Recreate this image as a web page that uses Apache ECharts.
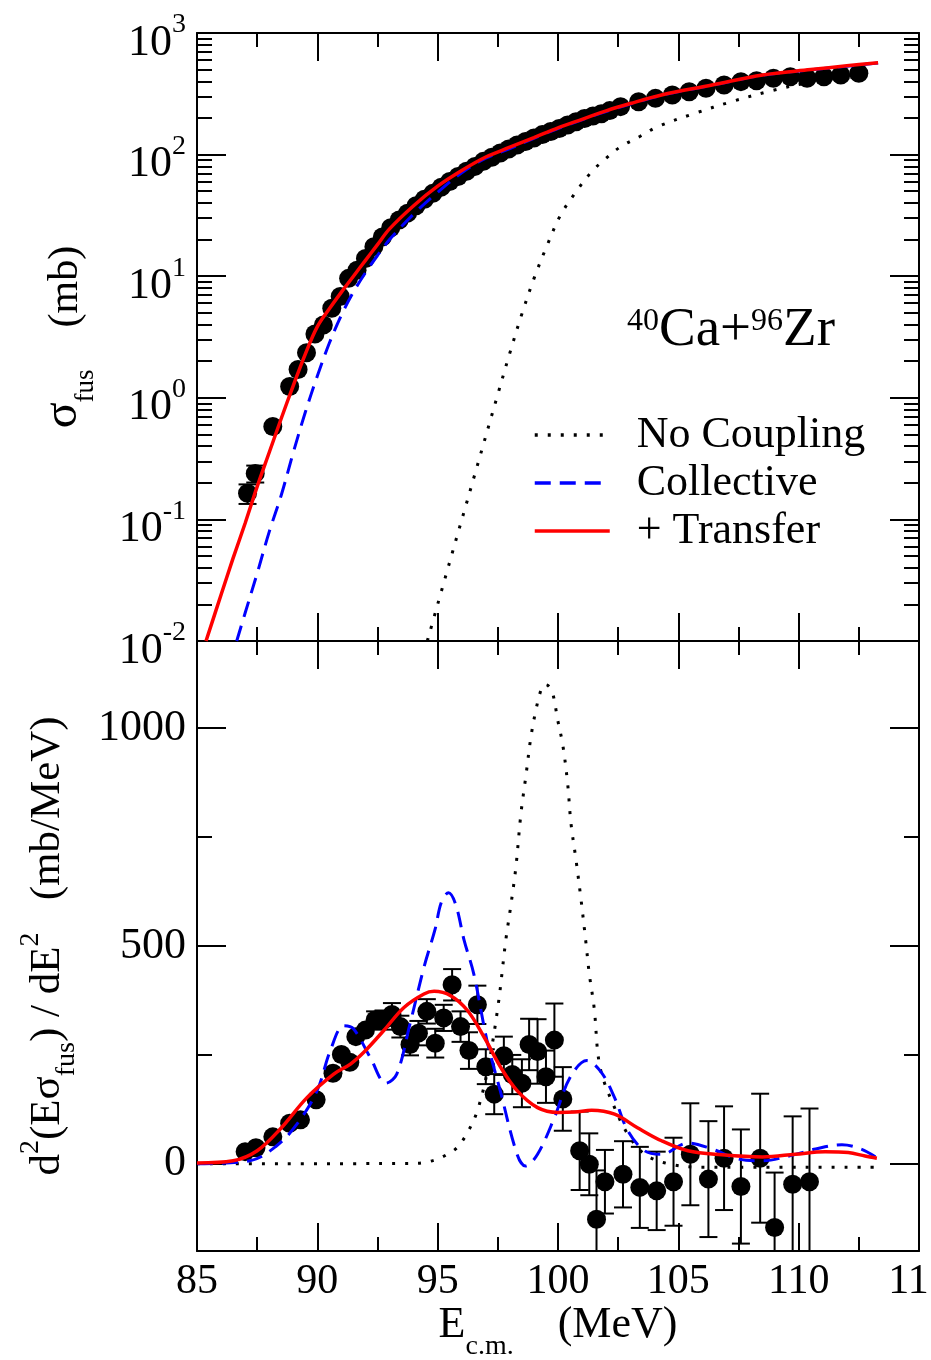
<!DOCTYPE html>
<html><head><meta charset="utf-8">
<script src="https://cdn.jsdelivr.net/npm/echarts@6/dist/echarts.min.js"></script>
<style>html,body{margin:0;padding:0;background:#fff}#c{width:931px;height:1360px}</style>
</head><body><div id="c"></div>
<script>
// ---------- DATA ----------
// Top panel: experimental fusion cross section (mb)
const topE   = [87.1, 87.42, 88.15, 88.85, 89.2, 89.55, 89.9, 90.25, 90.6, 90.95, 91.3, 91.65, 92.0, 92.35, 92.7, 93.05, 93.4, 93.75, 94.1, 94.45, 94.8, 95.15, 95.5, 95.85, 96.2, 96.55, 96.9, 97.25, 97.6, 97.95, 98.3, 98.65, 99.0, 99.35, 99.7, 100.05, 100.4, 100.75, 101.1, 101.45, 101.8, 102.15, 102.6, 103.35, 104.05, 104.75, 105.45, 106.15, 106.9, 107.6, 108.25, 108.95, 109.65, 110.35, 111.05, 111.75, 112.5];
const topSig = [0.164, 0.239, 0.58, 1.24, 1.71, 2.35, 3.35, 3.97, 5.45, 6.8, 9.6, 11.2, 14, 17.5, 21, 25, 29, 33, 38, 43, 48, 54, 60, 66, 73, 80, 88, 95, 103, 111, 120, 128, 137, 146, 155, 164, 175, 186, 198, 208, 217, 230, 248, 272, 290, 309, 329, 351, 373, 398, 405, 424, 437, 424, 437, 452, 467];
const topErr = [0.03, 0.038];   // visible error bars (first points only)

// Top panel theory curves
const ncTopE  = [94.57, 95.5, 96.5, 97.5, 98.0, 98.5, 99.0, 99.5, 100.1, 100.75, 101.4, 102.0, 102.6, 103.4, 104.15, 105.7, 107.2, 108.9, 110.7, 113.2];
const ncTopS  = [0.01, 0.0447, 0.219, 1.07, 2.34, 4.9, 9.55, 17, 31.6, 49.5, 72.4, 93.3, 116, 141, 170, 219, 272, 336, 398, 452];
const colTopE = [86.65, 87.0, 87.5, 88.0, 88.5, 89.0, 89.5, 90.0, 90.5, 91.0, 91.5, 92.0, 92.5, 93.0, 94.0, 95.0, 96.0, 97.0, 98.0, 99.0, 100.0, 101.0, 102.0, 104.3, 106.4, 108.5, 110.5, 112.0, 113.3];
const colTopS = [0.01, 0.017, 0.036, 0.079, 0.158, 0.355, 0.76, 1.51, 2.82, 4.79, 7.41, 10.7, 14.8, 20, 32.4, 49, 70.8, 93.3, 112, 136, 164, 193, 226, 307, 371, 449, 498, 533, 566];
const trTopE  = [85.375, 86.0, 86.5, 87.0, 87.5, 88.0, 88.5, 89.0, 89.5, 90.0, 90.5, 91.0, 91.5, 92.0, 92.5, 93.0, 94.0, 95.0, 96.0, 97.0, 98.0, 99.0, 100.0, 101.0, 102.0, 103.0, 104.3, 106.4, 108.5, 110.5, 112.0, 113.3];
const trTopS  = [0.01, 0.024, 0.048, 0.093, 0.186, 0.355, 0.676, 1.26, 2.29, 3.85, 5.4, 7.4, 10.0, 13.5, 18.2, 24.5, 38, 55, 74, 95.5, 115, 138, 166, 195, 229, 263, 309, 373, 452, 500, 537, 570];

// Bottom panel: barrier distribution d2(E sigma)/dE2 (mb/MeV)
const botE   = [87.0, 87.45, 88.15, 88.85, 89.3, 89.95, 90.65, 91.0, 91.35, 91.6, 92.0, 92.4, 92.75, 93.1, 93.45, 93.85, 94.2, 94.55, 94.9, 95.25, 95.6, 95.95, 96.3, 96.65, 97.0, 97.35, 97.75, 98.1, 98.5, 98.8, 99.15, 99.5, 99.85, 100.2, 100.9, 101.3, 101.6, 101.95, 102.7, 103.4, 104.1, 104.8, 105.5, 106.25, 106.9, 107.6, 108.4, 109.0, 109.75, 110.45];
const botV   = [28, 37, 62, 93, 101, 147, 208, 251, 233, 292, 307, 330, 330, 343, 315, 274, 300, 350, 277, 335, 411, 315, 260, 365, 223, 160, 248, 205, 185, 274, 258, 200, 284, 149, 30, -1, -127, -41, -24, -54, -62, -41, 22, -35, 13, -52, 13, -146, -47, -41];
const botErr = [0, 0, 0, 0, 0, 0, 0, 0, 0, 0, 0, 20, 22, 26, 25, 25, 28, 28, 33, 30, 36, 35, 42, 44, 40, 46, 44, 45, 55, 59, 74, 60, 84, 73, 90, 71, 112, 73, 76, 93, 90, 101, 117, 133, 119, 131, 148, 126, 156, 168];

const ncBotE  = [85.0, 94.0, 94.43, 95.0, 95.4, 95.8, 96.24, 96.65, 97.07, 97.5, 97.83, 98.04, 98.25, 98.46, 98.67, 98.875, 99.08, 99.29, 99.43, 99.6, 99.78, 99.99, 100.2, 100.4, 100.54, 100.75, 100.96, 101.15, 101.3, 101.5, 101.75, 102.35, 102.9, 103.6, 104.6, 106.0, 113.2];
const ncBotV  = [0, 1, 3, 11, 22, 37, 72, 122, 214, 359, 513, 593, 681, 804, 892, 980, 1041, 1087, 1100, 1097, 1080, 1018, 961, 873, 781, 697, 605, 513, 436, 359, 221, 129, 68, 22, 0, -8, -8];
const colBotE = [85.0, 87.2, 88.3, 89.15, 89.99, 90.54, 91.1, 91.5, 92.2, 92.85, 93.3, 93.85, 94.43, 94.9, 95.15, 95.45, 95.75, 96.1, 96.5, 97.05, 97.6, 98.3, 98.65, 99.15, 99.85, 100.5, 101.2, 101.8, 102.35, 102.9, 103.6, 104.3, 105.4, 106.4, 107.5, 108.5, 109.6, 110.7, 111.8, 112.6, 113.25];
const colBotV = [0, 7, 41, 91, 168, 260, 317, 310, 244, 185, 206, 321, 451, 540, 600, 622, 595, 513, 436, 283, 168, 22, -5, 22, 106, 198, 237, 210, 152, 76, 30, 22, 48, 34, 11, 7, 18, 34, 44, 34, 14];
const trBotE  = [85.0, 86.5, 87.5, 88.46, 89.57, 90.68, 91.375, 91.93, 92.76, 93.6, 94.43, 94.85, 95.54, 96.24, 96.94, 97.625, 98.3, 99.15, 100.0, 100.7, 101.4, 102.35, 103.3, 104.3, 105.4, 106.8, 108.5, 109.85, 111.1, 112.06, 112.76, 113.25];
const trBotV  = [2, 7, 30, 80, 152, 206, 229, 256, 306, 359, 390, 396, 386, 352, 290, 221, 168, 129, 118, 119, 123, 114, 83, 53, 30, 21, 16, 22, 28, 26, 18, 13];

// Tick values
const botYLabels = [0, 500, 1000];
const botYMinor  = [250, 750];
const topDecadeExp = [-2, -1, 0, 1, 2, 3];

// ---------- CHART ----------
const FONT = '"Liberation Serif", "Times New Roman", serif';
const BLACK = '#000';
const zip = (a, b) => a.map((v, i) => [v, b[i]]);
const logMinor = [];
topDecadeExp.slice(0, -1).forEach(e => { for (let k = 2; k <= 9; k++) logMinor.push(e + Math.log10(k)); });

const chart = echarts.init(document.getElementById('c'), null, {renderer: 'canvas', width: 931, height: 1360});

const lineCommon = {color: BLACK, width: 2};
function xAx(grid, pos, labels, name) {
  const a = {
    type: 'value', gridIndex: grid, position: pos, min: 85, max: 115, interval: 5,
    axisLine: {show: true, onZero: false, lineStyle: lineCommon},
    axisTick: {show: true, inside: true, length: 28, lineStyle: lineCommon},
    minorTick: {show: true, splitNumber: 2, length: 14, lineStyle: lineCommon},
    splitLine: {show: false}, minorSplitLine: {show: false},
    axisLabel: {show: labels, margin: 10, color: BLACK, fontFamily: FONT, fontSize: 42, hideOverlap: false,
      formatter: v => String(v)}
  };
  if (name) {
    a.name = '{b|E}{sub|c.m.}{b|    (MeV)}';
    a.nameLocation = 'middle';
    a.nameGap = 52;
    a.nameMoveOverlap = false;
    a.nameTextStyle = {color: BLACK, fontFamily: FONT, fontSize: 44,
      rich: {b: {fontFamily: FONT, fontSize: 44, color: BLACK, verticalAlign: 'bottom', padding: [0, 0, 14, 0]},
             sub: {fontFamily: FONT, fontSize: 28, color: BLACK, verticalAlign: 'bottom', padding: [0, 0, 0, 0]}}};
  }
  return a;
}
function helperY(grid, pos, min, max, vals, len) {
  return {type: 'value', gridIndex: grid, position: pos, min: min, max: max,
    axisLine: {show: false, onZero: false},
    axisTick: {show: true, inside: true, length: len, customValues: vals, lineStyle: lineCommon},
    axisLabel: {show: false}, splitLine: {show: false}};
}
function logY(pos, labels) {
  const a = {type: 'log', logBase: 10, gridIndex: 0, position: pos, min: 0.01, max: 1000, splitNumber: 5,
    axisLine: {show: true, onZero: false, lineStyle: lineCommon},
    axisTick: {show: true, inside: true, length: 29, lineStyle: lineCommon},
    minorTick: {show: false}, splitLine: {show: false},
    axisLabel: {show: labels, margin: 11, color: BLACK, fontFamily: FONT, fontSize: 44, padding: [10, 0, 0, 0],
      formatter: v => '{b|10}{s|' + Math.round(Math.log10(v)) + '}',
      rich: {b: {fontFamily: FONT, fontSize: 44, color: BLACK, verticalAlign: 'bottom'},
             s: {fontFamily: FONT, fontSize: 28, color: BLACK, verticalAlign: 'bottom', padding: [0, 0, 26, 0]}}}
  };
  if (labels) {
    a.name = '{g|σ}{sub|fus}{b|    (mb)}';
    a.nameLocation = 'middle'; a.nameRotate = 90; a.nameGap = 98; a.nameMoveOverlap = false;
    a.nameTextStyle = {color: BLACK, fontFamily: FONT, fontSize: 42,
      rich: {g: {fontFamily: FONT, fontSize: 48, color: BLACK, verticalAlign: 'bottom', padding: [0, 0, 12, 0]},
             b: {fontFamily: FONT, fontSize: 42, color: BLACK, verticalAlign: 'bottom', padding: [0, 0, 12, 0]},
             sub: {fontFamily: FONT, fontSize: 27, color: BLACK, verticalAlign: 'bottom'}}};
  }
  return a;
}
function linY(pos, labels) {
  const a = {type: 'value', gridIndex: 1, position: pos, min: -200, max: 1200,
    axisLine: {show: true, onZero: false, lineStyle: lineCommon},
    axisTick: {show: true, inside: true, length: 29, customValues: botYLabels, lineStyle: lineCommon},
    splitLine: {show: false},
    axisLabel: {show: labels, customValues: botYLabels, margin: 11, color: BLACK, fontFamily: FONT, fontSize: 44,
      formatter: v => String(v)}
  };
  if (labels) {
    a.name = '{b|d}{sup|2}{b|(Eσ}{sub|fus}{b|) / dE}{sup|2}{b|   (mb/MeV)}';
    a.nameLocation = 'middle'; a.nameRotate = 90; a.nameGap = 116; a.nameMoveOverlap = false;
    a.nameTextStyle = {color: BLACK, fontFamily: FONT, fontSize: 43,
      rich: {b: {fontFamily: FONT, fontSize: 43, color: BLACK, verticalAlign: 'bottom', padding: [0, 0, 12, 0]},
             sup: {fontFamily: FONT, fontSize: 28, color: BLACK, verticalAlign: 'bottom', padding: [0, 0, 36, 0]},
             sub: {fontFamily: FONT, fontSize: 28, color: BLACK, verticalAlign: 'bottom'}}};
  }
  return a;
}

function errSeries(xi, yi, data) {
  return {
    type: 'custom', xAxisIndex: xi, yAxisIndex: yi, clip: true, silent: true, z: 2,
    renderItem: (params, api) => {
      const x = api.value(0), lo = api.value(1), hi = api.value(2);
      const p1 = api.coord([x, lo]), p2 = api.coord([x, hi]);
      const w = 9, st = {stroke: BLACK, lineWidth: 2};
      return {type: 'group', children: [
        {type: 'line', shape: {x1: p1[0], y1: p1[1], x2: p2[0], y2: p2[1]}, style: st},
        {type: 'line', shape: {x1: p1[0] - w, y1: p1[1], x2: p1[0] + w, y2: p1[1]}, style: st},
        {type: 'line', shape: {x1: p2[0] - w, y1: p2[1], x2: p2[0] + w, y2: p2[1]}, style: st}
      ]};
    },
    encode: {x: 0, y: [1, 2]},
    data: data
  };
}
function lineSeries(name, xi, yi, data, style) {
  return {type: 'line', name: name, xAxisIndex: xi, yAxisIndex: yi, data: data, smooth: 0.35,
    symbol: 'none', showSymbol: false, clip: true, z: 3, lineStyle: style, itemStyle: {color: style.color},
    emphasis: {disabled: true}};
}
const dotStyle = {color: '#000', width: 3, type: [3, 10], cap: 'butt'};
const dashStyle = {color: '#0000ff', width: 3, type: [16, 9]};
const redStyle = {color: '#ff0000', width: 3.5, type: 'solid'};

const topErrData = topErr.map((e, i) => [topE[i], topSig[i] - e, topSig[i] + e]);
const botErrData = [];
botErr.forEach((e, i) => { if (e > 0) botErrData.push([botE[i], botV[i] - e, botV[i] + e]); });
const dotItem = {color: BLACK, opacity: 1};

const option = {
  backgroundColor: '#fff',
  animation: false,
  grid: [
    {left: 197, top: 33, width: 722, height: 608, outerBoundsMode: 'none', containLabel: false},
    {left: 197, top: 641, width: 722, height: 610, outerBoundsMode: 'none', containLabel: false}
  ],
  xAxis: [xAx(0, 'bottom', false), xAx(0, 'top', false), xAx(1, 'bottom', true, true), xAx(1, 'top', false)],
  yAxis: [
    logY('left', true), logY('right', false),
    helperY(0, 'left', -2, 3, logMinor, 15), helperY(0, 'right', -2, 3, logMinor, 15),
    linY('left', true), linY('right', false),
    helperY(1, 'left', -200, 1200, botYMinor, 15), helperY(1, 'right', -200, 1200, botYMinor, 15)
  ],
  legend: {
    orient: 'vertical', left: 528, top: 408, itemWidth: 75, itemHeight: 20, itemGap: 4,
    selectedMode: false, data: ['No Coupling', 'Collective', '+ Transfer'],
    itemStyle: {opacity: 0, borderWidth: 0},
    lineStyle: {width: 3.5},
    textStyle: {fontFamily: FONT, fontSize: 44, color: BLACK, padding: [0, 0, 0, 22]}
  },
  graphic: [{
    type: 'text', left: 627, top: 303, silent: true,
    style: {
      text: '{s|40}{m|Ca+}{s|96}{m|Zr}',
      rich: {m: {fontFamily: FONT, fontSize: 55, fill: BLACK, verticalAlign: 'bottom'},
             s: {fontFamily: FONT, fontSize: 32, fill: BLACK, verticalAlign: 'bottom', padding: [0, 0, 20, 0]}}
    }
  }],
  series: [
    errSeries(0, 0, topErrData),
    {type: 'scatter', xAxisIndex: 0, yAxisIndex: 0, data: zip(topE, topSig), symbol: 'circle', symbolSize: 19,
     itemStyle: dotItem, z: 2, clip: true, emphasis: {disabled: true}},
    lineSeries('No Coupling', 0, 0, zip(ncTopE, ncTopS), dotStyle),
    lineSeries('Collective', 0, 0, zip(colTopE, colTopS), dashStyle),
    lineSeries('+ Transfer', 0, 0, zip(trTopE, trTopS), redStyle),
    errSeries(2, 4, botErrData),
    {type: 'scatter', xAxisIndex: 2, yAxisIndex: 4, data: zip(botE, botV), symbol: 'circle', symbolSize: 19,
     itemStyle: dotItem, z: 2, clip: true, emphasis: {disabled: true}},
    lineSeries('No Coupling', 2, 4, zip(ncBotE, ncBotV), dotStyle),
    lineSeries('Collective', 2, 4, zip(colBotE, colBotV), dashStyle),
    lineSeries('+ Transfer', 2, 4, zip(trBotE, trBotV), redStyle)
  ]
};
chart.setOption(option);
</script>
</body></html>
